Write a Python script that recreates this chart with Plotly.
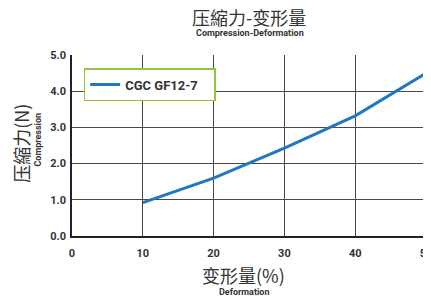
import plotly.graph_objects as go

# Data
deformation = [10, 20, 30, 40, 50]
compression = [0.92, 1.60, 2.43, 3.32, 4.50]
series_name = "CGC GF12-7"
x_ticks = [0, 10, 20, 30, 40, 50]
y_ticks = [0.0, 1.0, 2.0, 3.0, 4.0, 5.0]

title_cn = "压縮力-变形量"
title_en = "Compression-Deformation"
x_title_cn = "变形量(%)"
x_title_en = "Deformation"
y_title_cn = "压縮力(N)"
y_title_en = "Compression"

CJK = "Noto Sans CJK SC"
LAT = "Roboto"
TXT = "#333333"
GRID = "#4a4a4a"

# page is offset by 8px body margin; plot area in figure coords
PL, PT, PW, PH = 64, 47, 360, 181

fig = go.Figure()
fig.add_trace(go.Scatter(
    x=deformation, y=compression, mode="lines", name=series_name,
    line=dict(color="#1f78c1", width=3), cliponaxis=False,
))

fig.update_layout(
    width=431, height=298,
    margin=dict(l=PL, r=431 - PL - PW, t=PT, b=298 - PT - PH),
    paper_bgcolor="white", plot_bgcolor="white",
    showlegend=True,
    legend=dict(
        orientation="h", entrywidth=84, entrywidthmode="pixels",
        x=0.033, y=0.928, xanchor="left", yanchor="top",
        bordercolor="#8cc63f", borderwidth=1.5, bgcolor="white",
        font=dict(family=LAT, size=13, color=TXT, weight="bold"),
    ),
    xaxis=dict(
        range=[0, 50], tickvals=x_ticks, ticktext=[str(v) for v in x_ticks],
        showgrid=True, gridcolor=GRID, gridwidth=1,
        showline=True, linecolor="#222222", linewidth=1.5,
        ticks="", zeroline=False, ticklabelstandoff=6,
        tickfont=dict(family=LAT, size=11, color=TXT, weight="bold"),
    ),
    yaxis=dict(
        range=[0, 5], tickvals=y_ticks, ticktext=[f"{v:.1f}" for v in y_ticks],
        showgrid=True, gridcolor=GRID, gridwidth=1,
        showline=True, linecolor="#222222", linewidth=1.5,
        ticks="", zeroline=False, ticklabelstandoff=2,
        tickfont=dict(family=LAT, size=11, color=TXT, weight="bold"),
    ),
)

# positions in page pixels (page = figure + 8px offset)
annots = [
    dict(text=title_cn, x=252, y=17, font=dict(family=CJK, size=18, color=TXT)),
    dict(text=title_en, x=253, y=33, font=dict(family=LAT, size=9, color=TXT, weight="bold")),
    dict(text=x_title_cn, x=246, y=275, font=dict(family=CJK, size=18, color=TXT)),
    dict(text=x_title_en, x=247, y=292, font=dict(family=LAT, size=9, color=TXT, weight="bold")),
    dict(text=y_title_cn, x=20, y=143, textangle=-90, font=dict(family=CJK, size=18, color=TXT)),
    dict(text=y_title_en, x=37, y=140, textangle=-90, font=dict(family=LAT, size=9, color=TXT, weight="bold")),
]
for a in annots:
    fx, fy = a["x"] - 8, a["y"] - 8
    fig.add_annotation(
        text=a["text"], xref="paper", yref="paper",
        x=(fx - PL) / PW, y=(PT + PH - fy) / PH,
        xanchor="center", yanchor="middle", showarrow=False, borderpad=0,
        textangle=a.get("textangle", 0), font=a["font"],
    )

fig.write_html("out.html")
